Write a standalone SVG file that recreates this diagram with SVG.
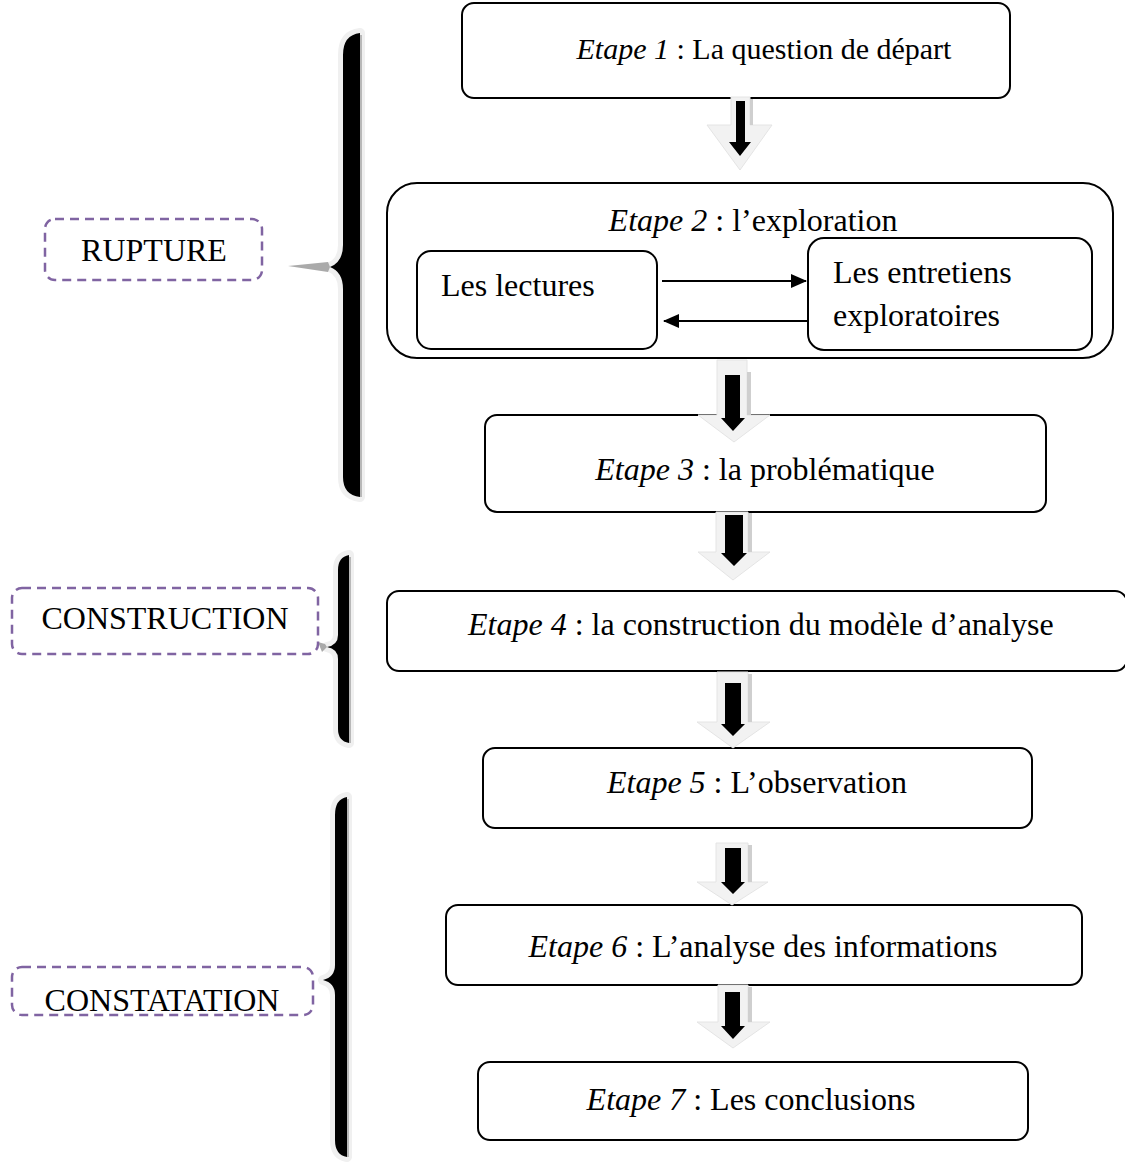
<svg xmlns="http://www.w3.org/2000/svg" width="1125" height="1162" viewBox="0 0 1125 1162">
<style>
text{font-family:"Liberation Serif","Times New Roman",serif;font-size:32px;fill:#000}
.it{font-style:italic}
.box{fill:#fff;stroke:#000;stroke-width:2}
.dash{fill:none;stroke:#8064a2;stroke-width:2.5;stroke-dasharray:9 6}
.brOut{fill:#f0f0f0;stroke:#f0f0f0;stroke-width:10;stroke-linejoin:round}
.br{fill:#000}
.brEdge{stroke:#b8b8b8;stroke-width:2}
.tip{fill:#aaa}
.ao{fill:#f2f2f2;stroke:#e4e4e4;stroke-width:1}
.ash{fill:#cfcfcf}
.ai{fill:#000}
.ln{stroke:#000;stroke-width:2;fill:none}
</style>
<defs>
<marker id="ahb" markerWidth="16" markerHeight="14" refX="15" refY="7" orient="auto" markerUnits="userSpaceOnUse" viewBox="0 0 16 14">
<path d="M0,0 L16,7 L0,14 Z" fill="#000"/>
</marker>
</defs>

<!-- Braces -->
<g id="brace-rupture">
<path class="brOut" d="M 360 33 Q 343 35 343 55 L 343 245 Q 343 262 330 267 Q 343 272 343 289 L 343 477 Q 343 495 360 497 Z"/>
<path class="br" d="M 360 33 Q 343 35 343 55 L 343 245 Q 343 262 330 267 Q 343 272 343 289 L 343 477 Q 343 495 360 497 Z"/>
<line class="brEdge" x1="361" y1="35" x2="361" y2="497"/>
<path class="tip" d="M 288 266 L 328 262 L 330 267 L 328 272 Z"/>
</g>
<g id="brace-construction">
<path class="brOut" d="M 349 555 Q 338 557 338 570 L 338 635 Q 338 645 327 647 Q 338 649 338 659 L 338 729 Q 338 741 349 743 Z"/>
<path class="br" d="M 349 555 Q 338 557 338 570 L 338 635 Q 338 645 327 647 Q 338 649 338 659 L 338 729 Q 338 741 349 743 Z"/>
<line class="brEdge" x1="350" y1="557" x2="350" y2="743"/>
<path class="tip" d="M 318 642 L 325 644 L 327 647 L 322 652 Z"/>
</g>
<g id="brace-constatation">
<path class="brOut" d="M 347 797 Q 335 799 335 815 L 335 965 Q 335 977 323 980 Q 335 983 335 995 L 335 1140 Q 335 1155 347 1157 Z"/>
<path class="br" d="M 347 797 Q 335 799 335 815 L 335 965 Q 335 977 323 980 Q 335 983 335 995 L 335 1140 Q 335 1155 347 1157 Z"/>
<line class="brEdge" x1="348" y1="799" x2="348" y2="1157"/>
</g>

<!-- Phase labels -->
<g id="rupture">
<rect class="dash" x="45" y="219" width="217" height="61" rx="10"/>
<text x="154" y="261" text-anchor="middle">RUPTURE</text>
</g>
<g id="construction">
<rect class="dash" x="12" y="588" width="306" height="66" rx="10"/>
<text x="165" y="629" text-anchor="middle">CONSTRUCTION</text>
</g>
<g id="constatation">
<rect class="dash" x="12" y="967" width="301" height="48" rx="10"/>
<text x="162" y="1011" text-anchor="middle">CONSTATATION</text>
</g>

<!-- Step boxes -->
<g id="etape1">
<rect class="box" x="462" y="3" width="548" height="95" rx="12"/>
<text x="764" y="59" text-anchor="middle" style="font-size:30px"><tspan class="it">Etape 1</tspan> : La question de départ</text>
</g>
<g id="etape2">
<rect class="box" x="387" y="183" width="726" height="175" rx="30"/>
<text x="753" y="231" text-anchor="middle"><tspan class="it">Etape 2</tspan> : l’exploration</text>
</g>
<g id="lectures">
<rect class="box" x="417" y="251" width="240" height="98" rx="14"/>
<text x="441" y="296">Les lectures</text>
</g>
<g id="entretiens">
<rect class="box" x="808" y="238" width="284" height="112" rx="16"/>
<text x="833" y="283">Les entretiens</text>
<text x="833" y="326">exploratoires</text>
</g>
<g id="etape3">
<rect class="box" x="485" y="415" width="561" height="97" rx="12"/>
<text x="765" y="480" text-anchor="middle"><tspan class="it">Etape 3</tspan> : la problématique</text>
</g>
<g id="etape4">
<rect class="box" x="387" y="591" width="740" height="80" rx="12"/>
<text x="468" y="635"><tspan class="it">Etape 4</tspan> : la construction du modèle d’analyse</text>
</g>
<g id="etape5">
<rect class="box" x="483" y="748" width="549" height="80" rx="12"/>
<text x="757" y="793" text-anchor="middle"><tspan class="it">Etape 5</tspan> : L’observation</text>
</g>
<g id="etape6">
<rect class="box" x="446" y="905" width="636" height="80" rx="12"/>
<text x="763" y="957" text-anchor="middle"><tspan class="it">Etape 6</tspan> : L’analyse des informations</text>
</g>
<g id="etape7">
<rect class="box" x="478" y="1062" width="550" height="78" rx="12"/>
<text x="751" y="1110" text-anchor="middle"><tspan class="it">Etape 7</tspan> : Les conclusions</text>
</g>

<!-- Connectors -->
<g id="connectors">
<line class="ln" x1="662" y1="281" x2="806" y2="281" marker-end="url(#ahb)"/>
<line class="ln" x1="808" y1="321" x2="664" y2="321" marker-end="url(#ahb)"/>

<path class="ao" d="M 731 97 L 750 97 L 750 125 L 772 125 L 740 170 L 707 125 L 731 125 Z"/>
<rect class="ash" x="750" y="99" width="3" height="26"/>
<path class="ai" d="M 736 101 L 745 101 L 745 142 L 751 142 L 740 156 L 729 142 L 736 142 Z"/>

<path class="ao" d="M 717 360 L 747 360 L 747 415 L 770 415 L 734 442 L 698 415 L 717 415 Z"/>
<rect class="ash" x="747" y="372" width="4" height="43"/>
<path class="ai" d="M 725 375 L 740 375 L 740 418 L 745 418 L 733 431 L 721 418 L 725 418 Z"/>

<path class="ao" d="M 716 512 L 748 512 L 748 552 L 770 552 L 733 580 L 698 552 L 716 552 Z"/>
<rect class="ash" x="748" y="513" width="4" height="39"/>
<path class="ai" d="M 725 515 L 743 515 L 743 553 L 747 553 L 734 566 L 721 553 L 725 553 Z"/>

<path class="ao" d="M 717 672 L 748 672 L 748 722 L 770 722 L 733 748 L 697 722 L 717 722 Z"/>
<rect class="ash" x="748" y="674" width="4" height="48"/>
<path class="ai" d="M 725 683 L 741 683 L 741 724 L 745 724 L 733 736 L 721 724 L 725 724 Z"/>

<path class="ao" d="M 716 843 L 748 843 L 748 882 L 768 882 L 732 905 L 697 882 L 716 882 Z"/>
<rect class="ash" x="748" y="845" width="4" height="37"/>
<path class="ai" d="M 725 848 L 741 848 L 741 882 L 745 882 L 733 894 L 721 882 L 725 882 Z"/>

<path class="ao" d="M 718 985 L 748 985 L 748 1022 L 770 1022 L 733 1048 L 697 1022 L 718 1022 Z"/>
<rect class="ash" x="748" y="987" width="4" height="35"/>
<path class="ai" d="M 725 992 L 740 992 L 740 1026 L 745 1026 L 733 1039 L 721 1026 L 725 1026 Z"/>
</g>
</svg>
